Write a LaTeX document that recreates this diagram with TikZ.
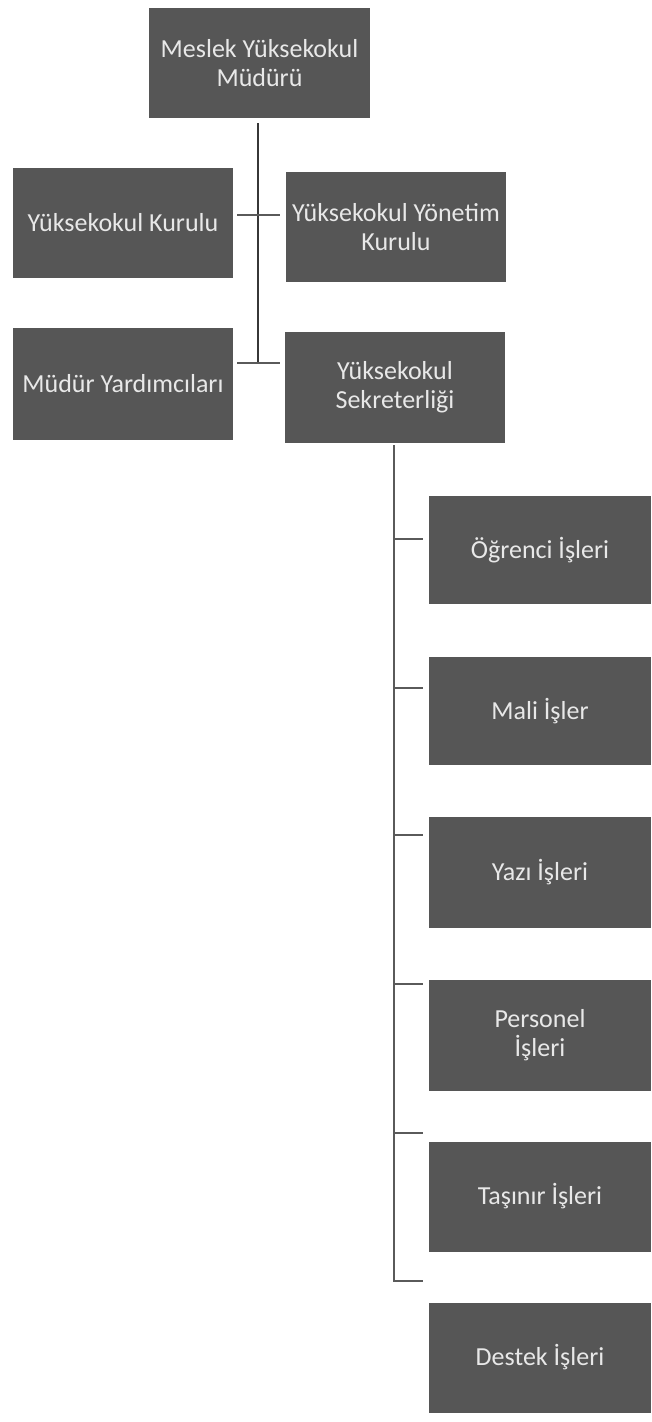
\documentclass[tikz,border=0pt]{standalone}
\usepackage{fontspec}
\setmainfont{Carlito}
\usetikzlibrary{calc}
\definecolor{boxgray}{RGB}{86,86,86}
\definecolor{txtgray}{RGB}{232,232,232}
\definecolor{linedark}{RGB}{55,55,55}
\definecolor{linegray}{RGB}{90,90,90}
\tikzset{
  orgbox/.style={fill=boxgray, draw=none, minimum height=110pt, inner sep=2pt,
    text=txtgray, align=center, font=\fontsize{26}{29}\selectfont},
  mainline/.style={draw=linedark, line width=2.8pt},
  subline/.style={draw=linegray, line width=2pt},
}
\begin{document}
\begin{tikzpicture}[x=1pt,y=-1pt]
\useasboundingbox (0,0) rectangle (652,1422);
% upper boxes
\node[orgbox, minimum width=221pt] (top) at (259.5,63) {Meslek Yüksekokul\\Müdürü};
\node[orgbox, minimum width=220pt] (kur) at (123,223) {Yüksekokul Kurulu};
\node[orgbox, minimum width=220pt] (yon) at (396,227) {Yüksekokul Yönetim\\Kurulu};
\node[orgbox, minimum width=220pt, minimum height=112pt] (myr) at (123,384) {Müdür Yardımcıları};
\node[orgbox, minimum width=220pt, minimum height=111pt] (sek) at (395,387.5) {Yüksekokul\\Sekreterliği};
% lower boxes
\node[orgbox, minimum width=222pt, minimum height=108pt] (ogr) at (540,550) {Öğrenci İşleri};
\node[orgbox, minimum width=222pt, minimum height=108pt] (mal) at (540,711) {Mali İşler};
\node[orgbox, minimum width=222pt, minimum height=111pt] (yaz) at (540,872.5) {Yazı İşleri};
\node[orgbox, minimum width=222pt, minimum height=111pt] (per) at (540,1035) {Personel\\İşleri};
\node[orgbox, minimum width=222pt, minimum height=110pt] (tas) at (540,1196.5) {Taşınır İşleri};
\node[orgbox, minimum width=222pt, minimum height=110pt] (des) at (540,1357.5) {Destek İşleri};
% upper connectors
\coordinate (tv) at (258,123);
\coordinate (bv) at (258,363);
\coordinate (kl) at (237,215);
\coordinate (kr) at (280,215);
\coordinate (ml) at (237,363);
\coordinate (mr) at (280,363);
\draw[mainline] (tv) -- (bv);
\draw[subline] (kl) -- (kr);
\draw[subline] (ml) -- (mr);
% lower connectors
\coordinate (sv) at (394,445);
\coordinate (t1) at (423,539);
\coordinate (t2) at (423,688);
\coordinate (t3) at (423,835);
\coordinate (t4) at (423,984);
\coordinate (t5) at (423,1133);
\coordinate (t6) at (423,1281);
\draw[subline] (sv) |- (t6);
\foreach \t in {t1,t2,t3,t4,t5}{
  \draw[subline] (sv |- \t) -- (\t);
}
\end{tikzpicture}
\end{document}
